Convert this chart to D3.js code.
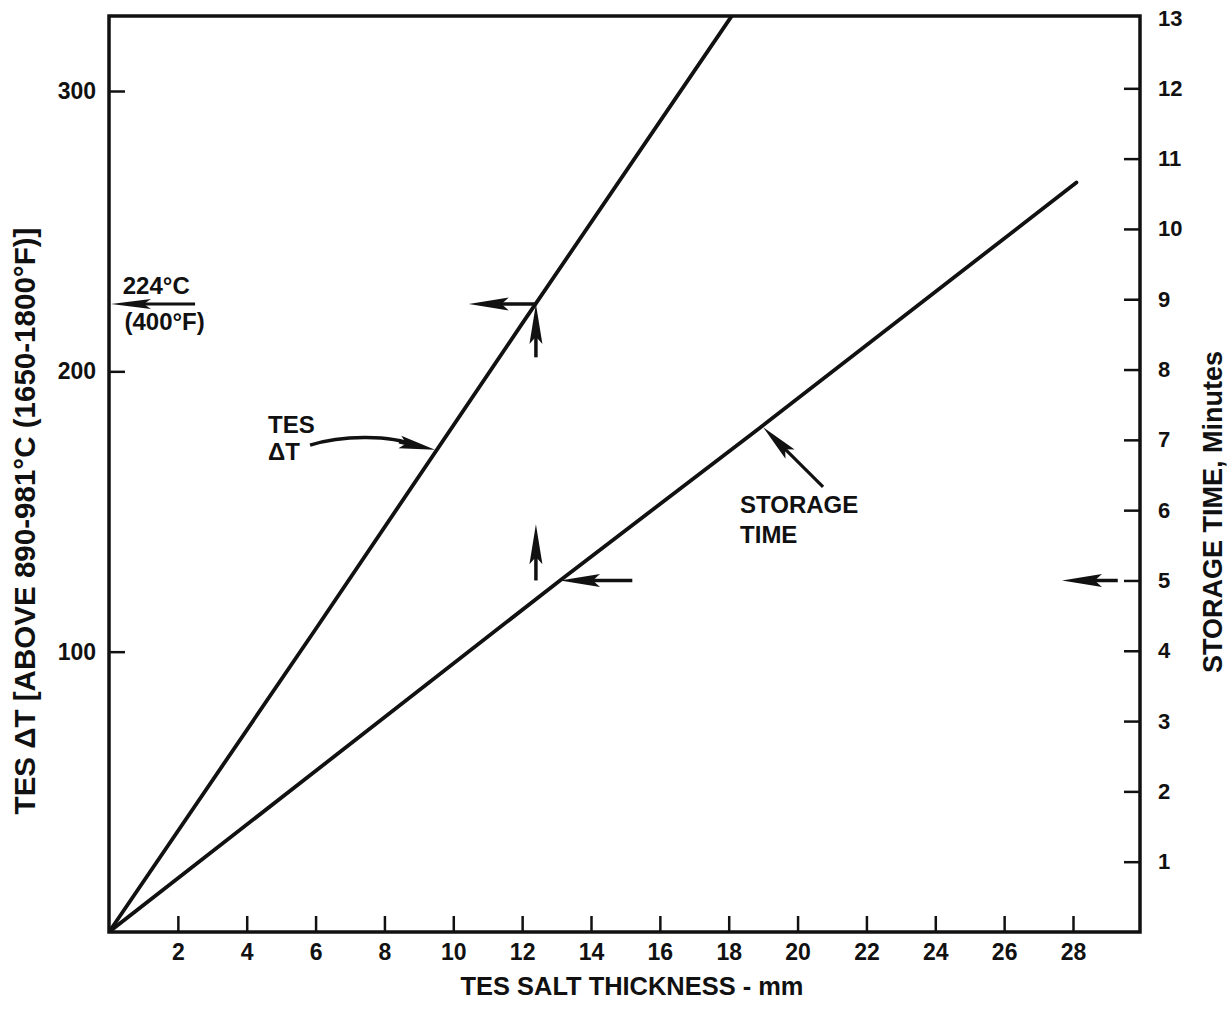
<!DOCTYPE html>
<html>
<head>
<meta charset="utf-8">
<script src="https://cdn.jsdelivr.net/npm/d3@7"></script>
<style>
  body { margin: 0; background: #fff; }
  svg text { font-family: "Liberation Sans", Arial, sans-serif; font-weight: bold; fill: #111; }
</style>
</head>
<body>
<svg id="chart" width="1230" height="1013"></svg>
<script>
// Axis ticks
const thicknessTicks = [2, 4, 6, 8, 10, 12, 14, 16, 18, 20, 22, 24, 26, 28];   // mm
const deltaTTicks = [100, 200, 300];                                           // °C
const storageTicks = [1, 2, 3, 4, 5, 6, 7, 8, 9, 10, 11, 12, 13];              // minutes

// TES ΔT versus salt thickness
const deltaTThickness = [0, 6, 12, 18.1];
const deltaTValues = [0, 108, 217, 327];

// Storage time versus salt thickness
const storageThickness = [0, 13.1, 18.9, 28.1];
const storageMinutes = [0, 5.0, 7.17, 10.66];

// Design point: 5 min storage -> ~12.4 mm salt -> 224 °C (400 °F) rise
const limitDeltaT = 224;
const limitDeltaTF = 400;
const designStorage = 5;
const designThickness = 12.4;

const svg = d3.select("#chart");
const frame = { left: 109, right: 1140, top: 16, bottom: 932 };

const x = d3.scaleLinear().domain([0, 28]).range([109, 1073]);
const yT = d3.scaleLinear().domain([0, 300]).range([932, 91]);
const yS = d3.scaleLinear().domain([0, 13]).range([932, 18]);

const INK = "#111";

// clip for the curves
svg.append("defs").append("clipPath").attr("id", "plotClip")
  .append("rect")
  .attr("x", frame.left).attr("y", frame.top)
  .attr("width", frame.right - frame.left).attr("height", frame.bottom - frame.top);

// frame
svg.append("rect")
  .attr("x", frame.left).attr("y", frame.top)
  .attr("width", frame.right - frame.left).attr("height", frame.bottom - frame.top)
  .attr("fill", "none").attr("stroke", INK).attr("stroke-width", 3.5);

function styleAxis(g, fontSize) {
  g.select(".domain").remove();
  g.selectAll(".tick line").attr("stroke", INK).attr("stroke-width", 2.5);
  g.selectAll(".tick text").attr("fill", INK).style("font-size", fontSize + "px");
}

// bottom axis, ticks pointing inward
svg.append("g")
  .attr("transform", `translate(0,${frame.bottom})`)
  .call(d3.axisBottom(x).tickValues(thicknessTicks).tickSizeInner(-16).tickSizeOuter(0).tickPadding(12))
  .call(g => styleAxis(g, 23));

// left axis
svg.append("g")
  .attr("transform", `translate(${frame.left},0)`)
  .call(d3.axisLeft(yT).tickValues(deltaTTicks).tickSizeInner(-16).tickSizeOuter(0).tickPadding(13))
  .call(g => styleAxis(g, 23));

// right axis
svg.append("g")
  .attr("transform", `translate(${frame.right},0)`)
  .call(d3.axisRight(yS).tickValues(storageTicks).tickSizeInner(-16).tickSizeOuter(0).tickPadding(18))
  .call(g => {
    styleAxis(g, 22);
    g.selectAll(".tick").filter(d => d === 13).select("line").remove();
  });

// curves
const lineT = d3.line().x(d => x(d[0])).y(d => yT(d[1]));
const lineS = d3.line().x(d => x(d[0])).y(d => yS(d[1]));
const curves = svg.append("g").attr("clip-path", "url(#plotClip)");
curves.append("path")
  .datum(deltaTThickness.map((t, i) => [t, deltaTValues[i]]))
  .attr("d", lineT).attr("fill", "none").attr("stroke", INK).attr("stroke-width", 3.8);
curves.append("path")
  .datum(storageThickness.map((t, i) => [t, storageMinutes[i]]))
  .attr("d", lineS).attr("fill", "none").attr("stroke", INK).attr("stroke-width", 3.8)
  .attr("stroke-linecap", "round");

// straight arrow: tail (x1,y1) -> tip (x2,y2)
const ann = svg.append("g");
function arrow(x1, y1, x2, y2, headLen = 38, headW = 13, sw = 3) {
  const dx = x2 - x1, dy = y2 - y1, L = Math.hypot(dx, dy);
  const ux = dx / L, uy = dy / L, nx = -uy, ny = ux;
  const bx = x2 - ux * headLen, by = y2 - uy * headLen;
  ann.append("line")
    .attr("x1", x1).attr("y1", y1)
    .attr("x2", x2 - ux * headLen * 0.5).attr("y2", y2 - uy * headLen * 0.5)
    .attr("stroke", INK).attr("stroke-width", sw);
  const notchX = x2 - ux * headLen * 0.82, notchY = y2 - uy * headLen * 0.82;
  ann.append("path")
    .attr("d", `M${x2},${y2} L${bx + nx * headW / 2},${by + ny * headW / 2} L${notchX},${notchY} L${bx - nx * headW / 2},${by - ny * headW / 2} Z`)
    .attr("fill", INK);
}

// 224 °C marker at the left axis
arrow(x(2.5), yT(limitDeltaT), x(0) + 2, yT(limitDeltaT), 40, 10, 3);
ann.append("text").attr("x", x(0.4)).attr("y", yT(limitDeltaT) - 10)
  .style("font-size", "24px")
  .text(`${limitDeltaT}°C`);
ann.append("text").attr("x", x(0.45)).attr("y", yT(limitDeltaT) + 26)
  .style("font-size", "24px")
  .text(`(${limitDeltaTF}°F)`);

// reading path: storage time -> thickness -> ΔT
arrow(x(29.3), yS(designStorage), x(27.68), yS(designStorage), 40, 13, 3.5);
arrow(x(15.2), yS(designStorage), x(13.1), yS(designStorage), 40, 13, 3.5);
arrow(x(designThickness), yS(designStorage), x(designThickness), yS(5.8), 40, 13, 3.5);
arrow(x(designThickness), yT(205), x(designThickness), yT(limitDeltaT), 40, 13, 3.5);
arrow(x(designThickness), yT(limitDeltaT), x(10.45), yT(limitDeltaT), 40, 13, 3.5);

// "TES ΔT" label with curved leader
const c0 = [x(5.84), yT(173.7)], c1 = [x(6.71), yT(177)], c2 = [x(8.16), yT(177.7)], c3 = [x(9.47), yT(172)];
ann.append("path")
  .attr("d", `M${c0} C${c1} ${c2} ${c3[0] - 20},${c3[1] - 4}`)
  .attr("fill", "none").attr("stroke", INK).attr("stroke-width", 3.5);
arrow(c3[0] - 36, c3[1] - 8, c3[0], c3[1], 36, 13, 3.5);
ann.append("text").attr("x", c0[0] - 42).attr("y", c0[1] - 12)
  .style("font-size", "24px").text("TES");
ann.append("text").attr("x", c0[0] - 42).attr("y", c0[1] + 15)
  .style("font-size", "24px").text("ΔT");

// "STORAGE TIME" label with pointer
const pTip = [x(19.0), yS(7.18)], pTail = [x(20.74), yS(6.33)];
arrow(pTail[0], pTail[1], pTip[0], pTip[1], 38, 13, 3.2);
ann.append("text").attr("x", pTail[0] - 83).attr("y", pTail[1] + 26)
  .style("font-size", "24px").text("STORAGE");
ann.append("text").attr("x", pTail[0] - 83).attr("y", pTail[1] + 56)
  .style("font-size", "24px").text("TIME");

// axis titles, sized to their span along the axes
function fitTitle(sel, target, base) {
  sel.style("font-size", base + "px");
  const w = sel.node().getComputedTextLength();
  sel.style("font-size", (base * target / w).toFixed(2) + "px");
}
const xTitle = svg.append("text")
  .attr("x", 632).attr("y", 995).attr("text-anchor", "middle")
  .text("TES SALT THICKNESS - mm");
fitTitle(xTitle, 343, 24);

const lTitle = svg.append("text")
  .attr("transform", "translate(35,521) rotate(-90)").attr("text-anchor", "middle")
  .text("TES ΔT [ABOVE 890-981°C (1650-1800°F)]");
fitTitle(lTitle, 587, 24);

const rTitle = svg.append("text")
  .attr("transform", "translate(1222,512) rotate(-90)").attr("text-anchor", "middle")
  .text("STORAGE TIME, Minutes");
fitTitle(rTitle, 322, 24);
</script>
</body>
</html>
